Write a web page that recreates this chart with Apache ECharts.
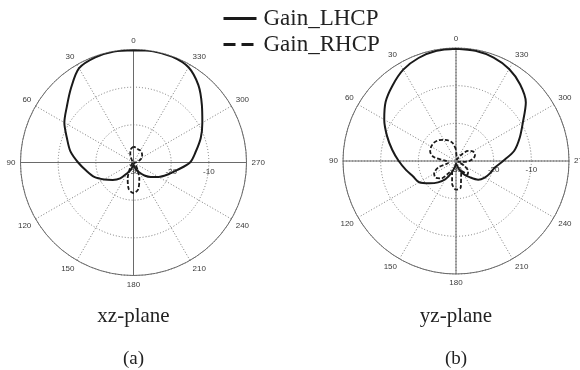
<!DOCTYPE html>
<html>
<head>
<meta charset="utf-8">
<script src="https://cdn.jsdelivr.net/npm/echarts@6/dist/echarts.min.js"></script>
<style>
html, body { margin: 0; padding: 0; background: #fff; }
#chart { width: 580px; height: 370px; }
</style>
</head>
<body>
<div id="chart"></div>
<script>
// angle in degrees (counter-clockwise from top), gain in dB
var angles = [0, 10, 20, 30, 40, 50, 60, 70, 80, 90, 100, 110, 120, 130, 140, 150, 160, 170,
	180, 190, 200, 210, 220, 230, 240, 250, 260, 270, 280, 290, 300, 310, 320, 330, 340, 350, 360];

// (a) xz-plane
var xzLHCP = [-0.2, -0.1, -0.3, -1.1, -4.2, -6.9, -8.8, -11.2, -13.0, -15.3, -17.3, -18.9, -21.0, -22.8, -24.5, -26.8, -28.0, -29.0,
	-29.5, -29.0, -28.0, -27.0, -25.5, -24.0, -22.3, -20.5, -18.3, -15.0, -13.2, -11.0, -8.9, -6.3, -3.2, -0.8, -0.1, 0, -0.2];
var xzRHCP = [-25.8, -26.3, -27.5, -28.8, -29.5, -29.8, -29.8, -29.8, -29.8, -29.8, -29.8, -29.8, -29.8, -29.5, -29.0, -28.0, -25.5, -22.8,
	-21.9, -22.8, -25.5, -28.0, -29.0, -29.5, -29.8, -29.8, -29.8, -29.5, -29.0, -28.3, -27.4, -27.0, -26.6, -26.3, -26.3, -26.0, -25.8];

// (b) yz-plane
var yzLHCP = [-0.2, -0.3, -0.9, -2.0, -3.8, -5.6, -8.0, -10.5, -12.8, -14.8, -16.5, -17.9, -18.7, -20.8, -22.6, -24.5, -26.8, -28.5,
	-29.3, -29.0, -27.8, -26.0, -24.4, -22.3, -21.2, -20.4, -19.6, -17.5, -14.3, -12.0, -9.5, -5.8, -3.5, -1.8, -0.8, -0.3, -0.2];
var yzRHCP = [-27.0, -25.2, -24.2, -23.5, -22.8, -22.4, -22.4, -22.7, -24.0, -27.5, -28.0, -25.0, -23.3, -23.0, -24.0, -26.5, -27.0, -24.0,
	-22.4, -22.8, -26.0, -27.0, -25.3, -25.8, -27.5, -29.5, -28.5, -26.5, -25.2, -24.6, -24.9, -25.8, -28.0, -29.5, -29.6, -29.0, -27.0];

var rMin = -30, rMax = 0, rStep = 10;
var angleStep = 30;
var seriesNames = ['Gain_LHCP', 'Gain_RHCP'];
var captions = ['xz-plane', 'yz-plane'];
var subCaptions = ['(a)', '(b)'];

var centers = [[133.5, 162.5], [456, 161]];
var plotRadius = 113;

function toPairs(vals){
	var arr = [];
	for(var i = 0; i < angles.length; i++)
		arr.push([vals[i], angles[i]]);
	return arr;
}

var tickFont = { fontFamily: 'Liberation Sans', fontSize: 8, color: '#3a3a3a' };
var serifFont = { fontFamily: 'Liberation Serif', fontWeight: 'normal', color: '#222' };
var dotted = { color: '#7a7a7a', type: [1, 2], width: 1 };

var polar = [], angleAxis = [], radiusAxis = [], title = [];
for(var p = 0; p < 2; p++){

	// main polar: rings, dotted spokes, angle labels
	polar.push({ center: centers[p], radius: plotRadius });
	angleAxis.push({
		polarIndex: p * 2,
		type: 'value', min: 0, max: 360, interval: angleStep,
		startAngle: 90, clockwise: false,
		axisLine: { lineStyle: { color: '#6a6a6a', width: 1 } },
		axisTick: { show: false },
		axisLabel: Object.assign({ margin: 5 }, tickFont),
		splitLine: { lineStyle: dotted }
	});
	radiusAxis.push({
		polarIndex: p * 2,
		type: 'value', min: rMin, max: rMax, interval: rStep,
		axisLine: { show: false },
		axisTick: { show: false },
		axisLabel: { show: false },
		splitLine: { lineStyle: dotted }
	});

	// overlay polar: solid cross + dB labels along 270
	polar.push({ center: centers[p], radius: plotRadius });
	angleAxis.push({
		polarIndex: p * 2 + 1,
		type: 'value', min: 0, max: 360, interval: 90,
		startAngle: 0, clockwise: false,
		axisLine: { show: false },
		axisTick: { show: false },
		axisLabel: { show: false },
		splitLine: { lineStyle: { color: '#6a6a6a', width: 1 } }
	});
	radiusAxis.push({
		polarIndex: p * 2 + 1,
		type: 'value', min: rMin, max: rMax, interval: rStep,
		axisLine: { show: false },
		axisTick: { show: false },
		axisLabel: Object.assign({ showMaxLabel: false, margin: -5, verticalAlign: 'top' }, tickFont),
		splitLine: { show: false }
	});

	title.push({
		text: captions[p], left: centers[p][0], top: 306, textAlign: 'center', padding: 0,
		textStyle: Object.assign({ fontSize: 21 }, serifFont)
	});
	title.push({
		text: subCaptions[p], left: centers[p][0], top: 350, textAlign: 'center', padding: 0,
		textStyle: Object.assign({ fontSize: 19 }, serifFont)
	});
}

var lhcpStyle = { color: '#1a1a1a', width: 2 };
var rhcpStyle = { color: '#1a1a1a', width: 1.8, type: [4, 2] };
var series = [
	{ name: seriesNames[0], type: 'line', coordinateSystem: 'polar', polarIndex: 0, data: toPairs(xzLHCP) },
	{ name: seriesNames[1], type: 'line', coordinateSystem: 'polar', polarIndex: 0, data: toPairs(xzRHCP) },
	{ name: seriesNames[0], type: 'line', coordinateSystem: 'polar', polarIndex: 2, data: toPairs(yzLHCP) },
	{ name: seriesNames[1], type: 'line', coordinateSystem: 'polar', polarIndex: 2, data: toPairs(yzRHCP) }
];
series.forEach(function(s, i){
	s.symbol = 'none';
	s.smooth = 0.3;
	s.silent = true;
	s.z = 5;
	s.color = '#1a1a1a';
	s.lineStyle = (i % 2 == 0) ? lhcpStyle : rhcpStyle;
});

var chart = echarts.init(document.getElementById('chart'), null, { renderer: 'canvas' });
chart.setOption({
	animation: false,
	backgroundColor: '#fff',
	title: title,
	legend: {
		orient: 'vertical', left: 217, top: 2,
		itemWidth: 33, itemHeight: 14, itemGap: 3,
		selectedMode: false,
		itemStyle: { color: 'transparent', borderColor: 'transparent', borderWidth: 0 },
		textStyle: Object.assign({ fontSize: 23, padding: [0, 0, 0, 2] }, serifFont),
		data: [
			{ name: seriesNames[0], lineStyle: { width: 3, type: 'solid', color: '#1a1a1a' } },
			{ name: seriesNames[1], lineStyle: { width: 3, type: [12, 6], color: '#1a1a1a' } }
		]
	},
	polar: polar,
	angleAxis: angleAxis,
	radiusAxis: radiusAxis,
	series: series
});
</script>
</body>
</html>
